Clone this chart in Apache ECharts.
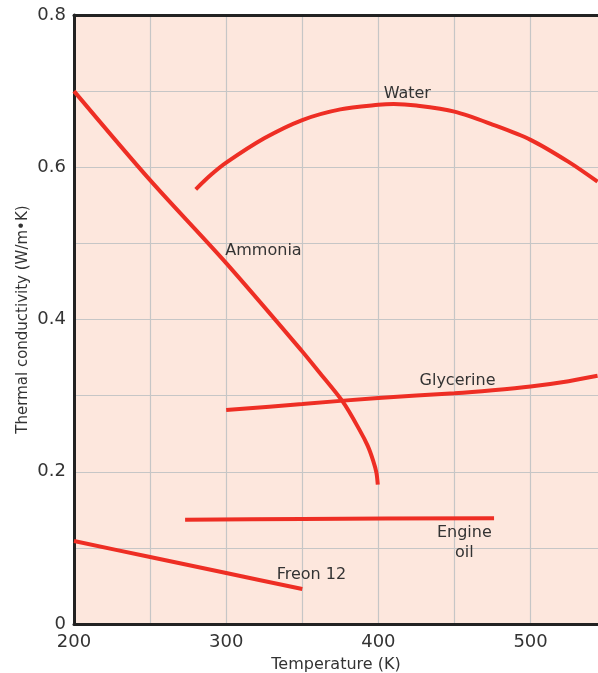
<!DOCTYPE html>
<html>
<head>
<meta charset="utf-8">
<script src="https://cdn.jsdelivr.net/npm/echarts@6/dist/echarts.min.js"></script>
<style>
html,body{margin:0;padding:0;background:#fff;}
#main{width:598px;height:673px;}
</style>
</head>
<body>
<div id="main"></div>
<script>
// values: [temperature K, k W/m·K]
var water = [[280,0.571],[290,0.59],[300,0.606],[325,0.638],[350,0.662],[375,0.676],[400,0.682],[410,0.683],[425,0.681],[450,0.673],[475,0.656],[500,0.636],[525,0.607],[544,0.581]];
var ammonia = [[200,0.70],[250,0.583],[300,0.474],[350,0.358],[361,0.331],[376.6,0.292],[387.6,0.255],[393,0.234],[396.5,0.215],[398.7,0.199],[399.6,0.183]];
var glycerine = [[300,0.281],[350,0.289],[400,0.297],[450,0.303],[475,0.307],[500,0.312],[525,0.319],[544,0.326]];
var engineOil = [[273,0.137],[350,0.138],[476,0.139]];
var freon12 = [[200,0.109],[250,0.088],[300,0.067],[350,0.046]];

// label anchors [name, T, k]
var labels = [
  ['Water', 419, 0.697],
  ['Ammonia', 324.5, 0.490],
  ['Glycerine', 452, 0.320],
  ['Engine\noil', 456.5, 0.106],
  ['Freon 12', 356, 0.065]
];

var RED = '#ee2e24';
var FONT = '"DejaVu Sans", sans-serif';

var myChart = echarts.init(document.getElementById('main'));

function curve(name, data){
  return {
    name: name, type: 'line', data: data, smooth: 0.3,
    showSymbol: false, symbol: 'none',
    lineStyle: {color: RED, width: 4, cap: 'butt'},
    z: 3, animation: false
  };
}

var series = [
  curve('Water', water),
  curve('Ammonia', ammonia),
  curve('Glycerine', glycerine),
  curve('Engine oil', engineOil),
  curve('Freon 12', freon12)
];
series.push({
  type: 'scatter', data: [], z: 5, animation: false,
  markPoint: {
    symbol: 'circle', symbolSize: 0, animation: false,
    label: {show: true, position: 'inside', color: '#333', fontSize: 16, fontFamily: FONT, lineHeight: 20,
      formatter: function(p){ return p.name; }},
    data: labels.map(function(l){ return {name: l[0], coord: [l[1], l[2]]}; })
  }
});

var option = {
  animation: false,
  grid: {left: 74, top: 15, right: 0, bottom: 49, outerBoundsMode: 'none', containLabel: false,
    show: true, backgroundColor: '#fde7dd', borderWidth: 0},
  xAxis: [{
    type: 'value', min: 200, max: 544.3, interval: 50,
    name: 'Temperature (K)', nameLocation: 'middle', nameGap: 33,
    nameTextStyle: {color: '#333', fontSize: 16, fontFamily: FONT},
    axisLine: {show: true, lineStyle: {color: '#222', width: 3}},
    axisTick: {show: false},
    axisLabel: {color: '#333', fontSize: 18, fontFamily: FONT, margin: 9, showMaxLabel: false,
      formatter: function(v){ return v % 100 === 0 ? String(v) : ''; }},
    splitLine: {show: true, showMinLine: false, showMaxLine: false, lineStyle: {color: '#c6c6c6', width: 1.2}}
  }, {
    type: 'value', position: 'top', min: 200, max: 544.3,
    axisLine: {show: true, lineStyle: {color: '#222', width: 3}},
    axisTick: {show: false}, axisLabel: {show: false}, splitLine: {show: false}
  }],
  yAxis: {
    type: 'value', min: 0, max: 0.8, interval: 0.1,
    name: 'Thermal conductivity (W/m\u2022K)', nameLocation: 'middle', nameGap: 43, nameRotate: 90,
    nameMoveOverlap: false,
    nameTextStyle: {color: '#333', fontSize: 15, fontFamily: FONT},
    axisLine: {show: true, lineStyle: {color: '#222', width: 3}},
    axisTick: {show: false},
    axisLabel: {color: '#333', fontSize: 18, fontFamily: FONT, margin: 8,
      formatter: function(v){ var n = Math.round(v * 10); return n % 2 === 0 ? (n === 0 ? '0' : (n / 10).toFixed(1)) : ''; }},
    splitLine: {show: true, showMinLine: false, showMaxLine: false, lineStyle: {color: '#c6c6c6', width: 1.2}}
  },
  series: series
};
myChart.setOption(option);
</script>
</body>
</html>
